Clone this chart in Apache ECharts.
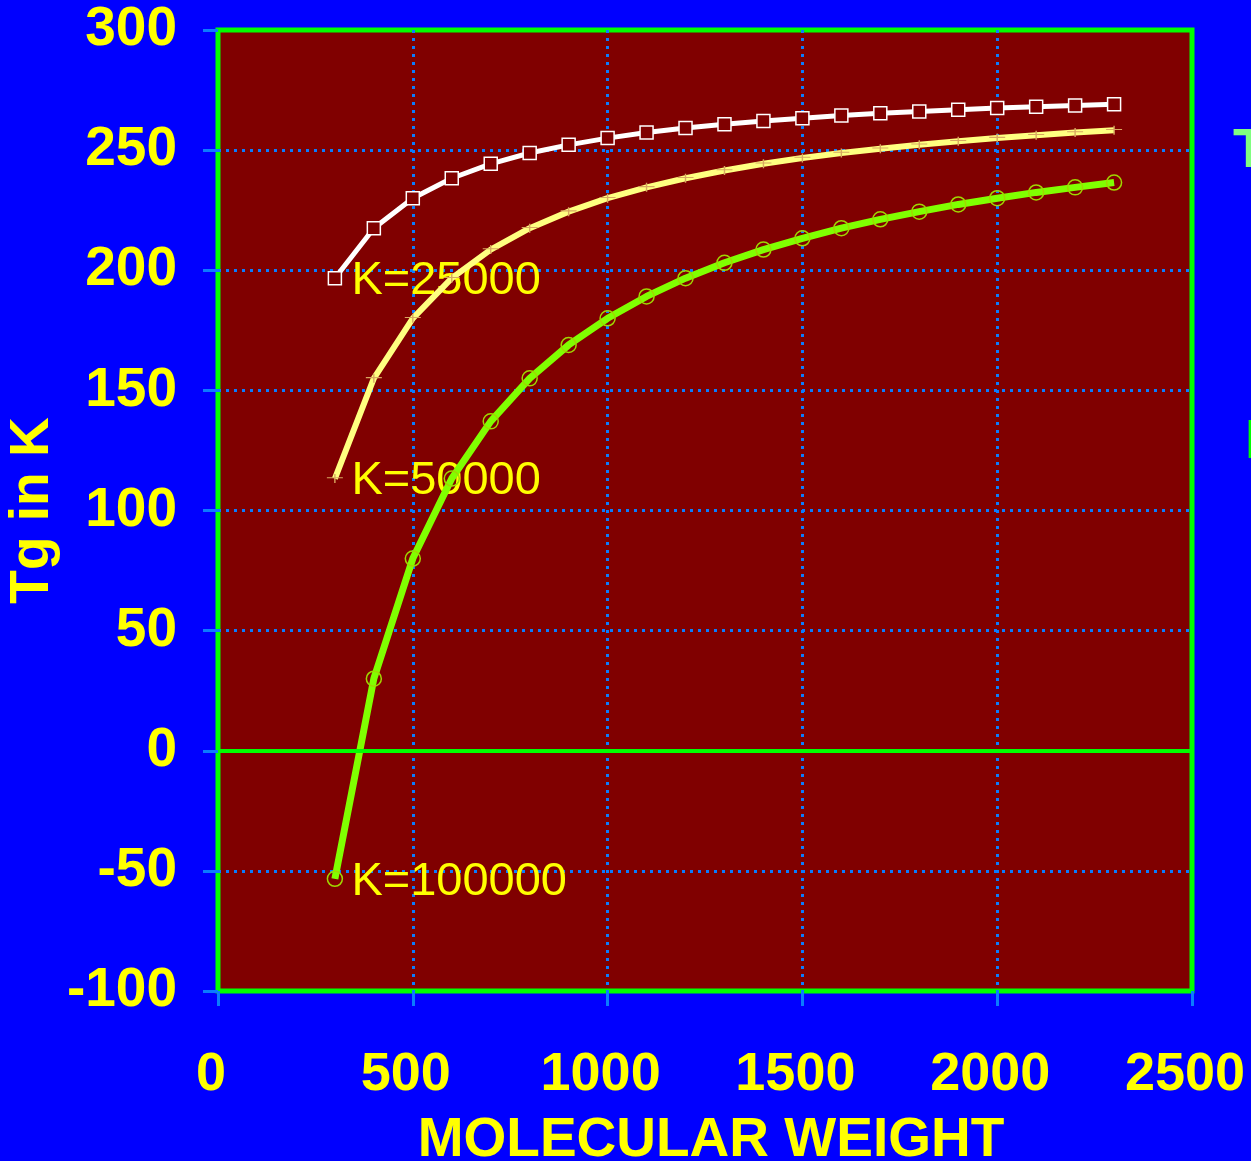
<!DOCTYPE html>
<html>
<head>
<meta charset="utf-8">
<script src="https://cdn.jsdelivr.net/npm/echarts@6/dist/echarts.min.js"></script>
<style>
html, body { margin: 0; padding: 0; background: #0000ff; }
#main { width: 1251px; height: 1161px; }
</style>
</head>
<body>
<div id="main"></div>
<script>
// molecular weight of each point
var mw = [300, 400, 500, 600, 700, 800, 900, 1000, 1100, 1200, 1300, 1400, 1500, 1600, 1700, 1800, 1900, 2000, 2100, 2200, 2300];

// Tg
var tgK25000 = [196.7, 217.5, 230, 238.3, 244.3, 248.8, 252.2, 255, 257.3, 259.2, 260.8, 262.1, 263.3, 264.4, 265.3, 266.1, 266.8, 267.5, 268.1, 268.6, 269.1];
var tgK50000 = [113.3, 155, 180, 196.7, 208.6, 217.5, 224.4, 230, 234.5, 238.3, 241.5, 244.3, 246.7, 248.8, 250.6, 252.2, 253.7, 255, 256.2, 257.3, 258.3];
var tgK100000 = [-53.3, 30, 80, 113.3, 137.1, 155, 168.9, 180, 189.1, 196.7, 203.1, 208.6, 213.3, 217.5, 221.2, 224.4, 227.4, 230, 232.4, 234.5, 236.5];

var curveLabels = ['K=25000', 'K=50000', 'K=100000'];

var font = "'Liberation Sans', Arial, sans-serif";

function pts(vals) {
    return mw.map(function (m, i) { return [m, vals[i]]; });
}

var myChart = echarts.init(document.getElementById('main'));

var gridDots = { color: '#0a7cff', width: 3, type: [3, 5] };

var option = {
    backgroundColor: '#0000ff',
    animation: false,
    grid: {
        left: 218, right: 59, top: 30, bottom: 170,
        outerBoundsMode: 'none',
        containLabel: false,
        show: true,
        backgroundColor: '#800000',
        borderColor: '#00ff00',
        borderWidth: 5
    },
    xAxis: {
        type: 'value',
        min: 0, max: 2500, interval: 500,
        name: 'MOLECULAR WEIGHT',
        nameLocation: 'middle',
        nameGap: 122,
        nameMoveOverlap: false,
        nameTextStyle: { color: '#ffff00', fontSize: 55, fontWeight: 'bold', fontFamily: font, padding: [0, 0, 0, 12] },
        axisLine: { show: false, onZero: false },
        axisTick: { show: true, length: 15, lineStyle: { color: '#0a7cff', width: 3 } },
        axisLabel: {
            color: '#ffff00', fontSize: 54, fontWeight: 'bold', fontFamily: font, margin: 57, padding: [0, 14, 0, 0],
            formatter: function (v) { return String(v); }
        },
        splitLine: { show: true, showMinLine: false, showMaxLine: false, lineStyle: gridDots }
    },
    yAxis: {
        type: 'value',
        min: -100, max: 300, interval: 50,
        name: 'Tg in K',
        nameLocation: 'middle',
        nameGap: 158,
        nameMoveOverlap: false,
        nameTextStyle: { color: '#ffff00', fontSize: 55, fontWeight: 'bold', fontFamily: font },
        axisLine: { show: false, onZero: false },
        axisTick: { show: true, length: 15, lineStyle: { color: '#0a7cff', width: 3 } },
        axisLabel: {
            color: '#ffff00', fontSize: 55, fontWeight: 'bold', fontFamily: font, margin: 41,
            formatter: function (v) { return String(v); }
        },
        splitLine: { show: true, showMinLine: false, showMaxLine: false, lineStyle: gridDots }
    },
    series: [
        {
            // curve names, drawn under the lines
            type: 'scatter',
            z: 1,
            symbolSize: 1,
            itemStyle: { color: 'transparent', opacity: 1 },
            data: [
                [mw[0], tgK25000[0], curveLabels[0]],
                [mw[0], tgK50000[0], curveLabels[1]],
                [mw[0], tgK100000[0], curveLabels[2]]
            ],
            label: {
                show: true,
                position: 'right',
                distance: 16,
                offset: [0, 3],
                color: '#ffff00',
                opacity: 1,
                fontSize: 47,
                fontFamily: font,
                formatter: function (p) { return p.value[2]; }
            },
            markLine: {
                silent: true,
                symbol: 'none',
                label: { show: false },
                lineStyle: { color: '#00ff00', width: 4, type: 'solid' },
                data: [{ yAxis: 0 }]
            }
        },
        {
            name: curveLabels[0],
            type: 'line',
            z: 3,
            data: pts(tgK25000),
            symbol: 'rect',
            symbolSize: 13,
            lineStyle: { color: '#ffffff', width: 5 },
            itemStyle: { color: '#800000', borderColor: '#ffffff', borderWidth: 1.5 }
        },
        {
            name: curveLabels[1],
            type: 'line',
            z: 3,
            data: pts(tgK50000),
            symbol: 'path://M0,4.3H16V5.7H0Z M7.3,0H8.7V12H7.3Z',
            symbolKeepAspect: true,
            symbolSize: [16, 12],
            lineStyle: { color: '#ffff80', width: 6 },
            itemStyle: { color: '#d8a860' }
        },
        {
            name: curveLabels[2],
            type: 'line',
            z: 3,
            data: pts(tgK100000),
            symbol: 'circle',
            symbolSize: 15,
            lineStyle: { color: '#80ff00', width: 7 },
            itemStyle: { color: 'transparent', borderColor: '#a0d800', borderWidth: 1.5 }
        }
    ],
    graphic: [
        {
            type: 'text', left: 1233, top: 124,
            style: { text: 'T', fill: '#80ff80', font: "bold 55px 'Liberation Sans', Arial, sans-serif" }
        },
        {
            type: 'text', left: 1245, top: 415,
            style: { text: 'E', fill: '#00ff00', font: "bold 55px 'Liberation Sans', Arial, sans-serif" }
        }
    ]
};

myChart.setOption(option);
</script>
</body>
</html>
